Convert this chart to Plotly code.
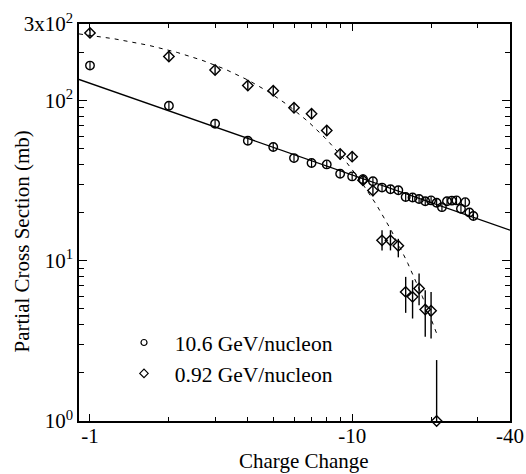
import numpy as np
import plotly.graph_objects as go

# Partial charge-changing cross sections (mb) vs. charge change magnitude
charge_10gev = list(range(1, 30))
sigma_10gev = [165, 92.7, 71.6, 56.1, 51.2, 43.7, 40.7, 39.9, 34.9, 33.6,
               32.3, 31.3, 28.6, 27.9, 27.5, 25.0, 24.8, 24.3, 23.5, 23.8,
               23.0, 21.6, 23.5, 23.7, 23.8, 21.1, 23.2, 20.0, 19.0]

charge_092gev = list(range(1, 22))
sigma_092gev = [264, 188, 155, 124, 115, 90, 82.6, 65, 46.3, 44.6,
                31.8, 27.4, 13.4, 13.4, 12.4, 6.39, 5.95, 6.71, 4.96, 4.87, 1.0]
err_plus_092 = [18, 13, 11, 9, 8, 6.5, 6, 5, 3.5, 3.3, 2.4, 2.1,
                2.1, 2.1, 1.3, 1.54, 1.61, 1.61, 1.59, 1.52, 1.4]
err_minus_092 = [18, 13, 11, 9, 8, 6.5, 6, 5, 3.5, 3.3, 2.4, 2.1,
                 1.8, 1.8, 1.9, 1.66, 1.59, 1.43, 1.61, 1.60, 0.0]

# Fit curves: power law (10.6 GeV/nucleon), exponential (0.92 GeV/nucleon)
power_amp, power_idx = 128.0, -0.572
expo_amp, expo_slope = 316.0, 0.093  # log10 slope per unit charge

x_tickvals = [1, 10, 40]
x_ticktext = ["-1", "-10", "-40"]
x_minor = [2, 3, 4, 5, 6, 7, 8, 9, 20, 30]
y_tickvals = [1, 10, 100, 300]
y_ticktext = ["10<sup>0</sup>", "10<sup>1</sup>", "10<sup>2</sup>", "3x10<sup>2</sup>"]
y_minor = [2, 3, 4, 5, 6, 7, 8, 9, 20, 30, 40, 50, 60, 70, 80, 90, 200]

x_lo, x_hi = 0.908, 40.0

SERIF = "Times New Roman, Liberation Serif, DejaVu Serif, serif"
FS = 21

xs_pow = np.logspace(np.log10(x_lo), np.log10(x_hi), 200)
ys_pow = power_amp * xs_pow ** power_idx
xs_exp = np.logspace(np.log10(x_lo), np.log10(21.0), 200)
ys_exp = expo_amp * 10 ** (-expo_slope * xs_exp)

fig = go.Figure()

fig.add_trace(go.Scatter(x=xs_pow, y=ys_pow, mode="lines",
                         line=dict(color="black", width=1.4),
                         showlegend=False, hoverinfo="skip"))
fig.add_trace(go.Scatter(x=xs_exp, y=ys_exp, mode="lines",
                         line=dict(color="black", width=1, dash="4px,5px"),
                         showlegend=False, hoverinfo="skip"))

fig.add_trace(go.Scatter(
    x=charge_10gev, y=sigma_10gev, mode="markers", showlegend=False,
    marker=dict(symbol="circle-open", size=8.5, color="black", line=dict(width=1.4)),
    error_y=dict(type="percent", value=6, color="black", thickness=1.2, width=0),
))
fig.add_trace(go.Scatter(
    x=charge_092gev, y=sigma_092gev, mode="markers", showlegend=False,
    cliponaxis=False,
    marker=dict(symbol="diamond-open", size=8, color="black", line=dict(width=1.4)),
    error_y=dict(type="data", symmetric=False, array=err_plus_092,
                 arrayminus=err_minus_092, color="black", thickness=1.4, width=0),
))

# Legend entries
fig.add_trace(go.Scatter(x=[None], y=[None], mode="markers",
                         name="\u00a0\u00a010.6 GeV/nucleon",
                         marker=dict(symbol="circle-open", size=6, color="black",
                                     line=dict(width=1.2))))
fig.add_trace(go.Scatter(x=[None], y=[None], mode="markers",
                         name="\u00a0\u00a00.92 GeV/nucleon",
                         marker=dict(symbol="diamond-open", size=6.5, color="black",
                                     line=dict(width=1.2))))

axis_common = dict(type="log", showline=True, linecolor="black", linewidth=1.6,
                   mirror="allticks", ticks="inside", tickcolor="black",
                   tickwidth=1.2, showgrid=False, zeroline=False,
                   tickfont=dict(family=SERIF, size=FS, color="black"))

fig.update_xaxes(**axis_common, range=[np.log10(x_lo), np.log10(x_hi)],
                 tickmode="array", tickvals=x_tickvals, ticktext=x_ticktext,
                 ticklen=7, ticklabelstandoff=-5,
                 minor=dict(tickmode="array", tickvals=x_minor, ticks="inside",
                            ticklen=4, tickcolor="black", tickwidth=1.2, showgrid=False))
fig.update_yaxes(**axis_common, range=[0, np.log10(300)],
                 tickmode="array", tickvals=y_tickvals, ticktext=y_ticktext,
                 ticklen=8,
                 minor=dict(tickmode="array", tickvals=y_minor, ticks="inside",
                            ticklen=5, tickcolor="black", tickwidth=1.2, showgrid=False))

fig.add_annotation(text="Partial Cross Section (mb)", textangle=-90,
                   xref="paper", yref="paper", x=(22 - 79) / 431, y=(421 - 241.5) / 397,
                   xanchor="center", yanchor="middle", showarrow=False,
                   font=dict(family=SERIF, size=FS, color="black"))
fig.add_annotation(text="Charge Change",
                   xref="paper", yref="paper", x=(304 - 79) / 431, y=(421 - 461) / 397,
                   xanchor="center", yanchor="middle", showarrow=False,
                   font=dict(family=SERIF, size=FS, color="black"))

fig.update_layout(
    width=526, height=474,
    margin=dict(l=79, r=16, t=24, b=53, autoexpand=False),
    paper_bgcolor="white", plot_bgcolor="white",
    font=dict(family=SERIF, size=FS, color="black"),
    legend=dict(x=(124 - 79) / 431, y=(421 - 322) / 397,
                xanchor="left", yanchor="top", bgcolor="rgba(0,0,0,0)",
                borderwidth=0, font=dict(family=SERIF, size=21.5, color="black"),
                itemsizing="trace"),
)

fig.write_html("out.html")
